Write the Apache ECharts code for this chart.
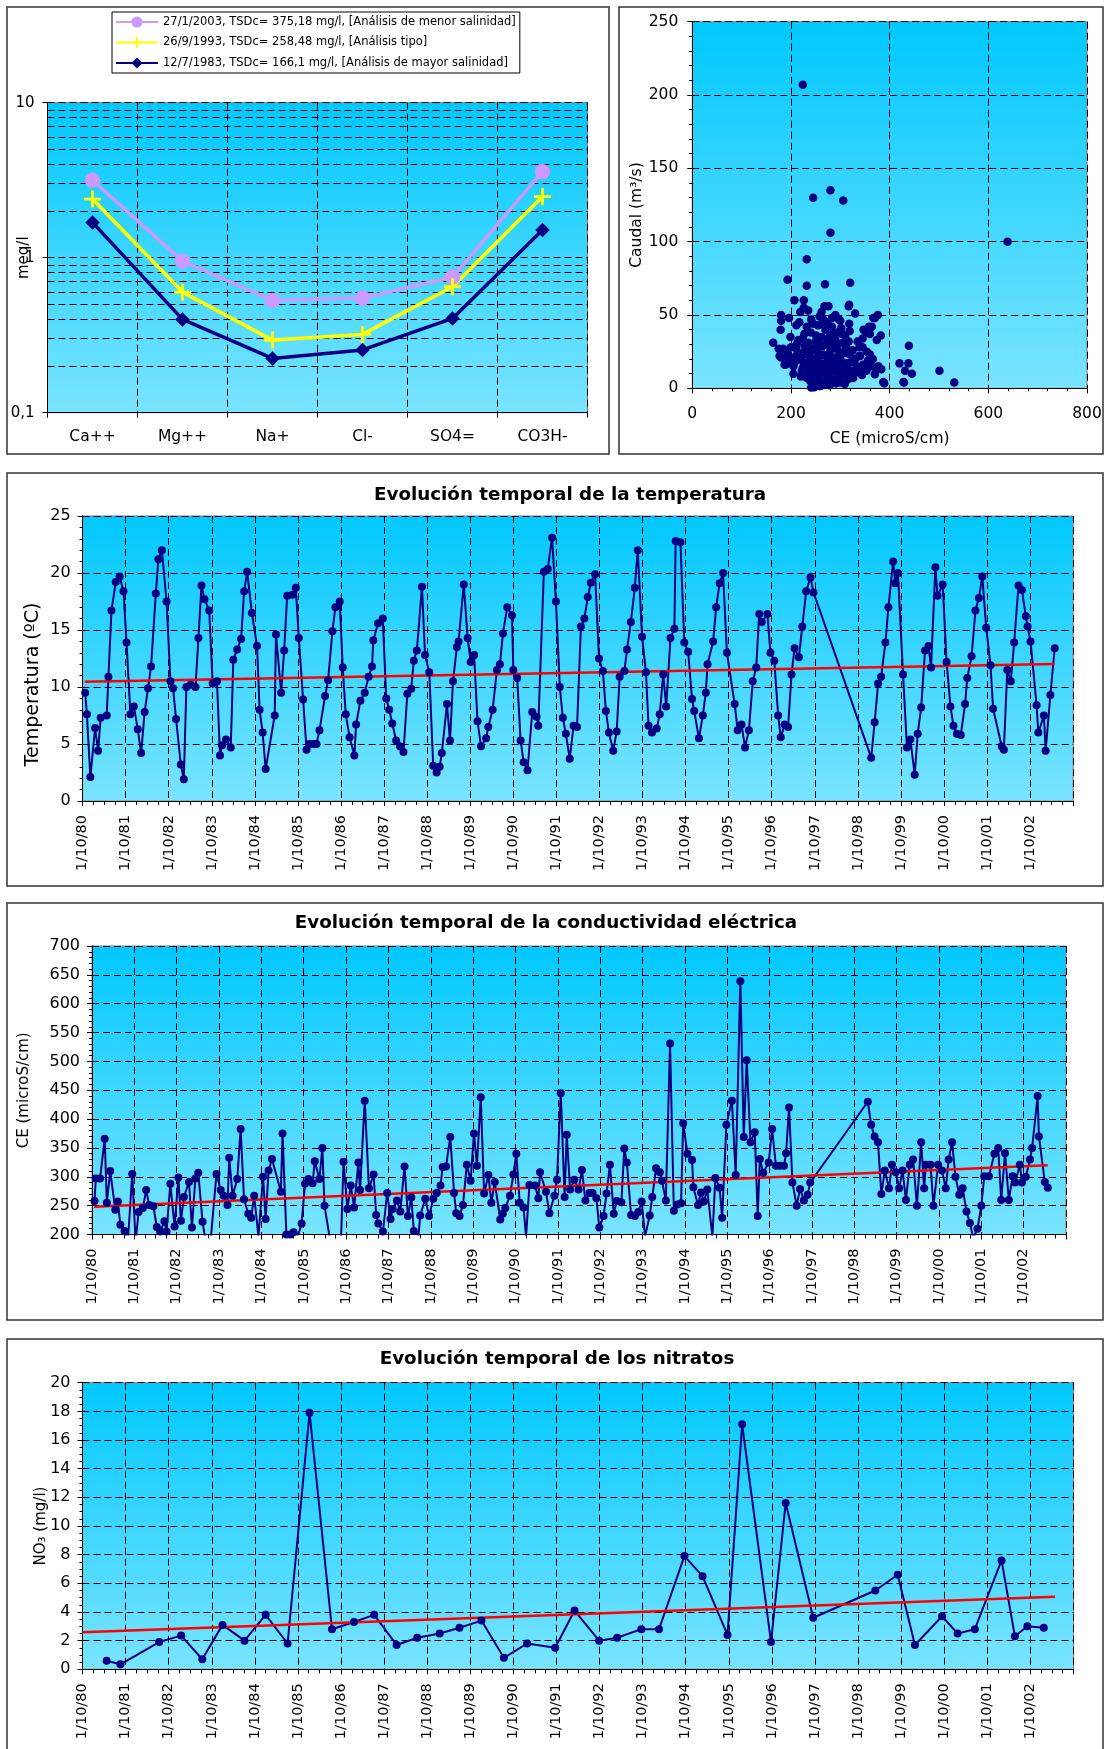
<!DOCTYPE html>
<html><head><meta charset="utf-8">
<script src="https://cdn.jsdelivr.net/npm/echarts@6/dist/echarts.min.js"></script>
<style>html,body{margin:0;padding:0;background:#fff}#c{width:1105px;height:1749px}</style>
</head><body><div id="c"></div>
<script>
// ---------- Panel 1: hydrochemical diagram ----------
const iones = ['Ca++','Mg++','Na+','Cl-','SO4=','CO3H-'];
const an2003 = [3.16, 0.95, 0.53, 0.55, 0.75, 3.59];
const an1993 = [2.39, 0.60, 0.294, 0.32, 0.65, 2.48];
const an1983 = [1.69, 0.40, 0.224, 0.254, 0.406, 1.51];
const legendNames = [
  '27/1/2003, TSDc= 375,18 mg/l, [Análisis de menor salinidad]',
  '26/9/1993, TSDc= 258,48 mg/l, [Análisis tipo]',
  '12/7/1983, TSDc= 166,1 mg/l, [Análisis de mayor salinidad]'
];
const logMinor = [0.2,0.3,0.4,0.5,0.6,0.7,0.8,0.9,2,3,4,5,6,7,8,9];

// ---------- Panel 2: Caudal vs CE ----------
const caudalCE = [
[224,207],[245,130],[280,135],[306,128],[280,106],[232,88],[639,100],[193,74],[232,70],[269,71],[320,72],
[207,60],[226,60],[268,56],[276,56],[318,57],[317,56],[330,51],[219,52],[235,53],[226,55],[376,50],[370,48],
[180,50],[180,46],[196,48],[211,43],[179,40],[164,31],[175,27],[180,21],[189,16],[205,15],[439,29],[420,17],
[438,17],[431,12],[445,10],[429,4],[389,3.5],[501,12],[531,4],[382,36],[374,33],[360,37],[357,39],[364,42],
[291,3.4],[266,2.3],[241,4.5],[241,0.5],[257,1.6],[247,0.8],[241,47],[258,49],[297,47],[283,42],[268,43],
[302,41],[319,39],[347,40],[358,42],[367,48],[353,38],[317,32],[285,37],[278,31],[251,36],[199,35],[224,34],
[235,31],[184,27],[177,22],[194,23],[211,27],[187,16],[204,16],[224,24],[245,27],[265,29],[292,27],[312,28],
[339,28],[354,25],[360,23],[338,22],[319,23],[299,22],[278,23],[258,22],[238,22],[218,20],[231,17],[251,19],
[272,17],[292,19],[312,17],[329,20],[346,16],[363,15],[373,13],[383,13],[370,9.5],[353,12],[336,11],[319,12],
[302,13],[285,12],[268,13],[251,12],[238,13],[224,14],[241,16],[258,15],[278,15],[295,15],[333,15],[245,9.5],
[261,9.5],[278,8.4],[295,9.5],[312,9.5],[339,12],[387,4.3],[428,4.3],[239,5],[258,3.4],[265,3.9],[291,4.3],
[215,20],[225,18],[235,25],[245,13],[250,20],[255,28],[260,17],[265,23],[270,10],[275,19],[280,26],[285,14],
[290,21],[295,30],[300,8],[305,17],[310,24],[250,32],[262,35],[275,34],[290,33],[305,31],[228,29],[240,38],
[270,40],[283,6],[300,4],[315,6],[255,6],[230,14],[220,8],[210,22],[330,20],[340,22],[350,15],[325,26],
[335,32],[345,28],[318,44],[300,46],[290,50],[265,47],[255,43],[245,44],[232,42],[217,45],[262,52],[270,30],
[280,36],[295,38],[310,36],[255,24],[268,16],[282,12],[296,11],[240,20],[225,23],[212,30],[200,28],[195,20],
[190,26],[205,10],[278,2],[260,1.5],[248,18],[262,11],[273,21],[287,17],[301,19],[314,14],[328,12],[242,26],
[256,30],[286,28],[300,25],[322,18],[236,10],[222,12],[208,18],[215,33],[227,37],[273,45],[283,48],[303,37],
[345,34],[356,19],[366,20],[377,15],[344,9],[326,7],[309,3],[296,6],[271,5],[250,8],[232,7]
];

// ---------- time axis (years since 1/10/1980) ----------
const yearLabels = ['1/10/80','1/10/81','1/10/82','1/10/83','1/10/84','1/10/85','1/10/86','1/10/87','1/10/88',
'1/10/89','1/10/90','1/10/91','1/10/92','1/10/93','1/10/94','1/10/95','1/10/96','1/10/97','1/10/98','1/10/99',
'1/10/00','1/10/01','1/10/02'];

// ---------- Panel 3: temperatura [t, ºC] ----------
const temperatura = [
[0.06,9.5],[0.10,7.6],[0.18,2.1],[0.29,6.4],[0.36,4.4],[0.42,7.3],[0.56,7.5],[0.60,10.9],[0.67,16.7],[0.77,19.2],
[0.86,19.7],[0.95,18.4],[1.02,13.9],[1.11,7.6],[1.19,8.3],[1.28,6.3],[1.36,4.2],[1.44,7.8],[1.52,9.9],[1.59,11.8],
[1.70,18.2],[1.76,21.2],[1.84,22.0],[1.95,17.5],[2.04,10.5],[2.10,9.9],[2.17,7.2],[2.28,3.2],[2.35,1.9],[2.41,10.0],
[2.51,10.2],[2.62,10.0],[2.69,14.3],[2.76,18.9],[2.83,17.7],[2.94,16.7],[3.02,10.3],[3.12,10.5],[3.19,4.0],[3.24,4.9],
[3.33,5.4],[3.44,4.7],[3.50,12.4],[3.59,13.3],[3.68,14.2],[3.75,18.4],[3.82,20.1],[3.93,16.5],[4.05,13.6],[4.11,8.0],
[4.18,6.0],[4.25,2.8],[4.46,7.5],[4.49,14.6],[4.61,9.5],[4.68,13.2],[4.75,18.0],[4.87,18.1],[4.95,18.7],[5.02,14.3],
[5.12,8.9],[5.20,4.5],[5.27,5.0],[5.35,5.0],[5.43,5.0],[5.50,6.2],[5.63,9.2],[5.70,10.6],[5.80,14.9],[5.87,17.0],
[5.97,17.5],[6.04,11.7],[6.11,7.6],[6.20,5.6],[6.31,4.0],[6.35,6.7],[6.45,8.8],[6.55,9.5],[6.64,10.9],[6.72,11.8],
[6.75,14.1],[6.86,15.6],[6.97,16.0],[7.05,9.0],[7.12,8.0],[7.19,6.8],[7.28,5.3],[7.37,4.8],[7.45,4.3],[7.54,9.4],
[7.63,9.85],[7.69,12.3],[7.76,13.2],
[7.88,18.8],[7.95,12.8],[8.05,11.3],[8.14,3.1],[8.22,2.5],[8.29,3.0],[8.34,4.2],[8.46,8.5],[8.53,5.3],[8.60,10.5],
[8.69,13.5],[8.73,14.0],[8.85,19.0],[8.94,14.3],[9.01,12.2],[9.09,12.8],[9.17,7.0],[9.25,4.8],[9.37,5.5],[9.42,6.5],
[9.52,8.0],[9.62,11.5],[9.69,12.0],[9.76,14.7],[9.86,17.0],[9.97,16.3],[10.00,11.5],[10.09,10.8],[10.17,5.3],[10.24,3.4],
[10.33,2.7],[10.44,7.8],[10.54,7.4],[10.58,6.6],[10.71,20.1],[10.80,20.35],[10.90,23.1],[10.99,17.5],[11.08,10.0],[11.15,7.3],
[11.22,5.9],[11.31,3.7],[11.40,6.6],[11.48,6.5],[11.57,15.3],[11.65,16.0],[11.73,17.9],[11.80,19.15],[11.90,19.9],[11.99,12.5],
[12.08,11.4],[12.15,7.9],[12.22,6.0],[12.32,4.4],[12.40,6.1],[12.47,10.9],[12.58,11.4],[12.64,13.3],[12.73,15.7],[12.82,18.7],
[12.89,22.0],[12.99,14.4],[13.08,11.3],[13.14,6.6],[13.22,6.0],[13.33,6.35],[13.40,7.6],[13.48,11.1],[13.55,8.3],[13.65,14.3],
[13.74,15.1],[13.77,22.8],[13.88,22.7],[13.97,13.9],[14.06,13.1],[14.15,8.95],[14.20,7.9],[14.31,5.5],[14.40,7.5],[14.47,9.5],
[14.51,12.0],[14.64,14.0],[14.71,17.0],[14.79,19.1],[14.87,20.0],[14.96,13.0],[15.14,8.5],[15.21,6.2],[15.30,6.7],[15.38,4.7],
[15.47,6.2],[15.56,10.5],[15.64,11.7],[15.71,16.4],[15.77,15.7],[15.90,16.4],[15.97,13.0],[16.06,12.3],[16.15,7.5],[16.21,5.6],
[16.30,6.7],[16.38,6.5],[16.46,11.1],[16.53,13.4],[16.63,12.6],[16.71,15.3],[16.80,18.4],[16.90,19.6],[16.97,18.3],[18.31,3.8],
[18.39,6.9],[18.47,10.3],[18.54,10.9],[18.64,13.9],[18.71,17.0],[18.82,21.0],[18.87,19.1],[18.93,20.0],[19.05,11.1],[19.14,4.7],
[19.22,5.4],[19.32,2.3],[19.39,5.9],[19.47,8.2],[19.56,13.2],[19.64,13.6],[19.70,11.7],[19.80,20.5],[19.85,18.0],[19.97,19.0],
[20.06,12.2],[20.15,8.3],[20.22,6.6],[20.30,5.9],[20.39,5.8],[20.49,8.5],[20.54,10.8],[20.64,12.7],[20.73,16.7],[20.81,17.8],
[20.89,19.7],[20.98,15.2],[21.08,11.9],[21.14,8.1],[21.34,4.8],[21.39,4.5],[21.47,11.5],[21.55,10.5],[21.63,13.9],[21.73,18.9],
[21.81,18.5],[21.90,16.2],[21.94,15.3],[22.01,14.0],[22.15,8.4],[22.19,6.0],[22.32,7.5],[22.36,4.4],[22.47,9.3],[22.57,13.4]
];
const tendTemp = [[0.05,10.47],[22.57,12.02]];

// ---------- Panel 4: conductividad [t, microS/cm] ----------
const conductividad = [
[0.06,258],[0.09,297],[0.19,297],[0.30,366],[0.35,255],[0.43,310],[0.55,243],[0.61,257],[0.67,217],[0.77,206],
[0.85,191],[0.95,305],[1.03,188],[1.10,239],[1.20,246],[1.28,277],[1.35,251],[1.45,249],[1.53,213],[1.61,205],
[1.71,223],[1.76,205],[1.85,288],[1.95,214],[2.04,299],[2.10,224],[2.17,265],[2.29,291],[2.36,212],[2.44,297],
[2.51,307],[2.61,222],[2.69,186],[2.79,180],[2.94,305],[3.04,277],[3.11,267],[3.20,251],[3.24,333],[3.32,267],
[3.43,296],[3.51,383],[3.59,261],[3.69,236],[3.76,229],[3.83,267],[3.93,197],[4.04,300],[4.10,227],[4.17,311],
[4.25,331],[4.46,274],[4.50,375],[4.59,200],[4.69,200],[4.76,204],[4.87,199],[4.95,219],[5.03,288],[5.11,296],
[5.21,289],[5.26,327],[5.37,296],[5.44,350],[5.49,250],[5.62,191],[5.88,191],[5.94,326],[6.03,244],[6.11,285],
[6.19,247],[6.29,325],[6.33,277],[6.44,432],[6.54,280],[6.65,304],[6.71,234],[6.76,219],[6.87,205],[6.97,272],
[7.05,227],[7.10,244],[7.20,259],[7.28,240],[7.38,318],[7.46,232],[7.54,264],[7.60,206],[7.71,198],[7.75,233],
[7.87,262],[7.96,232],[8.06,262],[8.14,272],[8.23,285],[8.28,317],[8.36,318],[8.46,369],[8.55,272],[8.60,237],
[8.68,232],[8.76,251],[8.85,321],[8.94,293],[9.02,375],[9.09,319],[9.18,438],[9.26,271],[9.36,303],[9.43,255],
[9.51,291],[9.64,226],[9.70,236],[9.76,246],[9.87,267],[9.95,304],[10.02,340],[10.10,255],[10.19,247],[10.25,197],
[10.33,286],[10.46,285],[10.54,263],[10.58,308],[10.72,274],[10.80,237],[10.92,267],[10.98,295],[11.07,445],[11.16,265],
[11.21,373],[11.29,278],[11.39,295],[11.49,278],[11.57,312],[11.65,259],[11.75,272],[11.82,272],[11.91,263],[11.98,212],
[12.08,232],[12.15,271],[12.23,321],[12.32,236],[12.39,258],[12.50,256],[12.57,349],[12.63,325],[12.73,234],[12.82,232],
[12.90,239],[12.98,257],[13.06,197],[13.17,233],[13.23,265],[13.32,315],[13.41,308],[13.46,293],[13.55,259],[13.65,531],
[13.74,241],[13.82,252],[13.91,254],[13.96,393],[14.06,340],[14.17,329],[14.20,282],[14.31,251],[14.38,273],[14.45,257],
[14.53,278],[14.65,196],[14.72,298],[14.82,281],[14.88,229],[14.98,390],[15.11,432],[15.20,303],[15.31,639],[15.39,369],
[15.46,502],[15.55,360],[15.65,377],[15.72,232],[15.77,331],[15.85,307],[15.98,325],[16.06,383],[16.15,319],[16.24,319],
[16.34,319],[16.39,341],[16.46,420],[16.54,290],[16.64,250],[16.72,279],[16.81,259],[16.90,269],[16.96,290],[18.32,430],
[18.40,390],[18.48,370],[18.56,360],[18.64,270],[18.72,311],[18.82,280],[18.89,321],[18.98,308],[19.06,280],[19.14,311],
[19.22,260],[19.31,321],[19.39,330],[19.48,250],[19.58,360],[19.65,280],[19.69,321],[19.80,321],[19.87,250],[19.98,321],
[20.07,311],[20.16,280],[20.23,330],[20.31,360],[20.39,300],[20.48,269],[20.56,280],[20.65,240],[20.73,220],[20.81,194],
[20.91,210],[21.00,250],[21.07,301],[21.18,301],[21.31,340],[21.40,350],[21.47,260],[21.56,341],[21.65,260],[21.74,301],
[21.80,290],[21.91,321],[21.96,290],[22.05,300],[22.15,330],[22.20,350],[22.33,440],[22.36,370],[22.50,291],[22.57,281]
];
const tendCE = [[0.05,248],[22.57,320]];

// ---------- Panel 5: nitratos [t, mg/l] ----------
const nitratos = [
[0.56,0.6],[0.88,0.35],[1.78,1.9],[2.29,2.35],[2.78,0.7],[3.25,3.1],[3.76,2.0],[4.25,3.8],[4.76,1.8],[5.27,17.9],
[5.79,2.8],[6.30,3.3],[6.77,3.8],[7.29,1.7],[7.77,2.2],[8.29,2.5],[8.75,2.9],[9.26,3.4],[9.78,0.8],[10.32,1.8],
[10.97,1.5],[11.42,4.1],[11.99,2.0],[12.41,2.2],[12.97,2.8],[13.38,2.8],[13.97,7.9],[14.39,6.5],[14.97,2.4],[15.31,17.1],
[15.98,1.9],[16.32,11.6],[16.96,3.6],[18.40,5.5],[18.92,6.6],[19.32,1.7],[19.95,3.7],[20.31,2.5],[20.71,2.8],[21.33,7.6],
[21.64,2.3],[21.93,3.0],[22.31,2.9]
];
const tendNO3 = [[0,2.58],[22.57,5.07]];

// ---------- styling helpers ----------
const FONT = 'DejaVu Sans';
const bg = {type:'linear', x:0, y:0, x2:0, y2:1, colorStops:[{offset:0,color:'#00C8FF'},{offset:1,color:'#7AE4FF'}]};
const dash = {color:'#000', type:[7,4], width:1};
const navy = '#000080';

function gridBox(left, top, width, height){
  return {left, top, width, height, show:true, backgroundColor:bg, borderColor:'#808080', borderWidth:1, containLabel:false};
}
function timeAxis(gi){
  return {type:'value', gridIndex:gi, min:0, max:23, interval:1,
    axisLine:{show:true, onZero:false, lineStyle:{color:'#000', width:1}},
    axisTick:{show:true, length:5, lineStyle:{color:'#000'}},
    minorTick:{show:true, splitNumber:4, length:4, lineStyle:{color:'#000'}},
    axisLabel:{rotate:90, margin:14, fontFamily:FONT, fontSize:14.5, color:'#000',
      formatter: v => yearLabels[Math.round(v)] || ''},
    splitLine:{show:true, lineStyle:dash}
  };
}
function valAxis(gi, min, max, interval, minorSplit, name, nameGap, nameSize, namePad){
  return {type:'value', gridIndex:gi, min, max, interval,
    axisLine:{show:true, onZero:false, lineStyle:{color:'#000', width:1}},
    axisTick:{show:true, length:5, lineStyle:{color:'#000'}},
    minorTick:{show:true, splitNumber:minorSplit, length:3, lineStyle:{color:'#000'}},
    axisLabel:{margin:12, fontFamily:FONT, fontSize:16, color:'#000'},
    splitLine:{show:true, lineStyle:dash},
    name, nameLocation:'middle', nameGap, nameMoveOverlap:false,
    nameTextStyle:{fontFamily:FONT, fontSize:nameSize, color:'#000', padding:namePad || 0}
  };
}
const plusSym = 'path://M4.2,0H5.8V4.2H10V5.8H5.8V10H4.2V5.8H0V4.2H4.2Z';

const option = {
  animation:false,
  backgroundColor:'#fff',
  textStyle:{fontFamily:FONT},
  graphic:[
    {type:'rect', shape:{x:7,y:7,width:602,height:447}, style:{fill:'none', stroke:'#333', lineWidth:1.5}},
    {type:'rect', shape:{x:619,y:7,width:484,height:447}, style:{fill:'none', stroke:'#333', lineWidth:1.5}},
    {type:'rect', shape:{x:7,y:473,width:1096,height:413}, style:{fill:'none', stroke:'#333', lineWidth:1.5}},
    {type:'rect', shape:{x:7,y:903,width:1096,height:417}, style:{fill:'none', stroke:'#333', lineWidth:1.5}},
    {type:'rect', shape:{x:7,y:1339,width:1096,height:430}, style:{fill:'none', stroke:'#333', lineWidth:1.5}},
    {type:'text', x:570, y:495, style:{text:'Evolución temporal de la temperatura', font:'bold 18.3px "DejaVu Sans"', fill:'#000', align:'center', verticalAlign:'middle', textAlign:'center', textVerticalAlign:'middle'}},
    {type:'text', x:546, y:923, style:{text:'Evolución temporal de la conductividad eléctrica', font:'bold 18.3px "DejaVu Sans"', fill:'#000', align:'center', verticalAlign:'middle', textAlign:'center', textVerticalAlign:'middle'}},
    {type:'text', x:557, y:1359, style:{text:'Evolución temporal de los nitratos', font:'bold 18.3px "DejaVu Sans"', fill:'#000', align:'center', verticalAlign:'middle', textAlign:'center', textVerticalAlign:'middle'}}
  ],
  legend:{
    orient:'vertical', left:112, top:12, itemWidth:42, itemHeight:14, itemGap:8.5,
    padding:[4,4,4,3], borderColor:'#000', borderWidth:1, backgroundColor:'#fff',
    textStyle:{fontFamily:FONT, fontSize:11.5, color:'#000'},
    data:legendNames
  },
  grid:[
    gridBox(47.5, 102.7, 540, 310),
    gridBox(692.3, 21.7, 394.7, 366.6),
    gridBox(82.6, 516, 990.6, 285),
    gridBox(92, 946, 974, 288.5),
    gridBox(82.5, 1382.7, 991, 286.6)
  ],
  xAxis:[
    {type:'category', gridIndex:0, data:iones, boundaryGap:true,
      axisLine:{lineStyle:{color:'#000'}},
      axisTick:{show:true, length:5, lineStyle:{color:'#000'}},
      axisLabel:{margin:16, fontFamily:FONT, fontSize:15.5, color:'#000'},
      splitLine:{show:true, lineStyle:dash}},
    {type:'value', gridIndex:1, min:0, max:800, interval:200,
      axisLine:{show:true, onZero:false, lineStyle:{color:'#000'}},
      axisTick:{show:true, length:5, lineStyle:{color:'#000'}},
      minorTick:{show:true, splitNumber:5, length:3, lineStyle:{color:'#000'}},
      axisLabel:{margin:18, fontFamily:FONT, fontSize:15.5, color:'#000'},
      splitLine:{show:true, lineStyle:dash},
      name:'CE (microS/cm)', nameLocation:'middle', nameGap:43, nameMoveOverlap:false,
      nameTextStyle:{fontFamily:FONT, fontSize:15.5, color:'#000'}},
    timeAxis(2), timeAxis(3), timeAxis(4)
  ],
  yAxis:[
    {type:'log', gridIndex:0, logBase:10, min:0.1, max:10,
      axisLine:{show:true, lineStyle:{color:'#000'}},
      axisTick:{show:true, length:5, lineStyle:{color:'#000'}},
      axisLabel:{margin:13, fontFamily:FONT, fontSize:15, color:'#000',
        formatter: v => String(+v.toPrecision(3)).replace('.', ',')},
      splitLine:{show:true, lineStyle:dash},
      name:'meq/l', nameLocation:'middle', nameGap:16, nameMoveOverlap:false,
      nameTextStyle:{fontFamily:FONT, fontSize:15, color:'#000'}},
    Object.assign(valAxis(1, 0, 250, 50, 5, 'Caudal (m³/s)', 47, 15.5, [0,20,0,0]),
      {axisLabel:{margin:14, fontFamily:FONT, fontSize:15.5, color:'#000'}}),
    valAxis(2, 0, 25, 5, 5, 'Temperatura (ºC)', 40, 19, [0,52,0,0]),
    valAxis(3, 200, 700, 50, 5, 'CE (microS/cm)', 60, 15),
    valAxis(4, 0, 20, 2, 4, 'NO₃ (mg/l)', 34, 15)
  ],
  series:[
    {name:legendNames[0], type:'line', xAxisIndex:0, yAxisIndex:0, data:an2003,
      symbol:'circle', symbolSize:15.5, itemStyle:{color:'#CC99FF'}, lineStyle:{color:'#CC99FF', width:3.5},
      markLine:{silent:true, z:1, symbol:'none', label:{show:false}, lineStyle:dash, emphasis:{disabled:true},
        data: logMinor.map(v => ({yAxis:v}))}},
    {name:legendNames[1], type:'line', xAxisIndex:0, yAxisIndex:0, data:an1993,
      symbol:plusSym, symbolSize:17, itemStyle:{color:'#FFFF00'}, lineStyle:{color:'#FFFF00', width:3.5}},
    {name:legendNames[2], type:'line', xAxisIndex:0, yAxisIndex:0, data:an1983,
      symbol:'diamond', symbolSize:14.5, itemStyle:{color:navy}, lineStyle:{color:navy, width:3.5}},
    {type:'scatter', xAxisIndex:1, yAxisIndex:1, data:caudalCE, symbol:'circle', symbolSize:8.5, itemStyle:{color:navy, opacity:1}},
    {type:'line', xAxisIndex:2, yAxisIndex:2, data:temperatura, symbol:'circle', symbolSize:8,
      itemStyle:{color:navy}, lineStyle:{color:navy, width:2}},
    {type:'line', xAxisIndex:2, yAxisIndex:2, data:tendTemp, symbol:'none', lineStyle:{color:'#FF0000', width:2.5}},
    {type:'line', xAxisIndex:3, yAxisIndex:3, data:conductividad, symbol:'circle', symbolSize:8, clip:true,
      itemStyle:{color:navy}, lineStyle:{color:navy, width:2}},
    {type:'line', xAxisIndex:3, yAxisIndex:3, data:tendCE, symbol:'none', lineStyle:{color:'#FF0000', width:2.5}},
    {type:'line', xAxisIndex:4, yAxisIndex:4, data:nitratos, symbol:'circle', symbolSize:8,
      itemStyle:{color:navy}, lineStyle:{color:navy, width:2}},
    {type:'line', xAxisIndex:4, yAxisIndex:4, data:tendNO3, symbol:'none', lineStyle:{color:'#FF0000', width:2.5}}
  ]
};
const chart = echarts.init(document.getElementById('c'), null, {renderer:'canvas'});
chart.setOption(option);
</script>
</body></html>
